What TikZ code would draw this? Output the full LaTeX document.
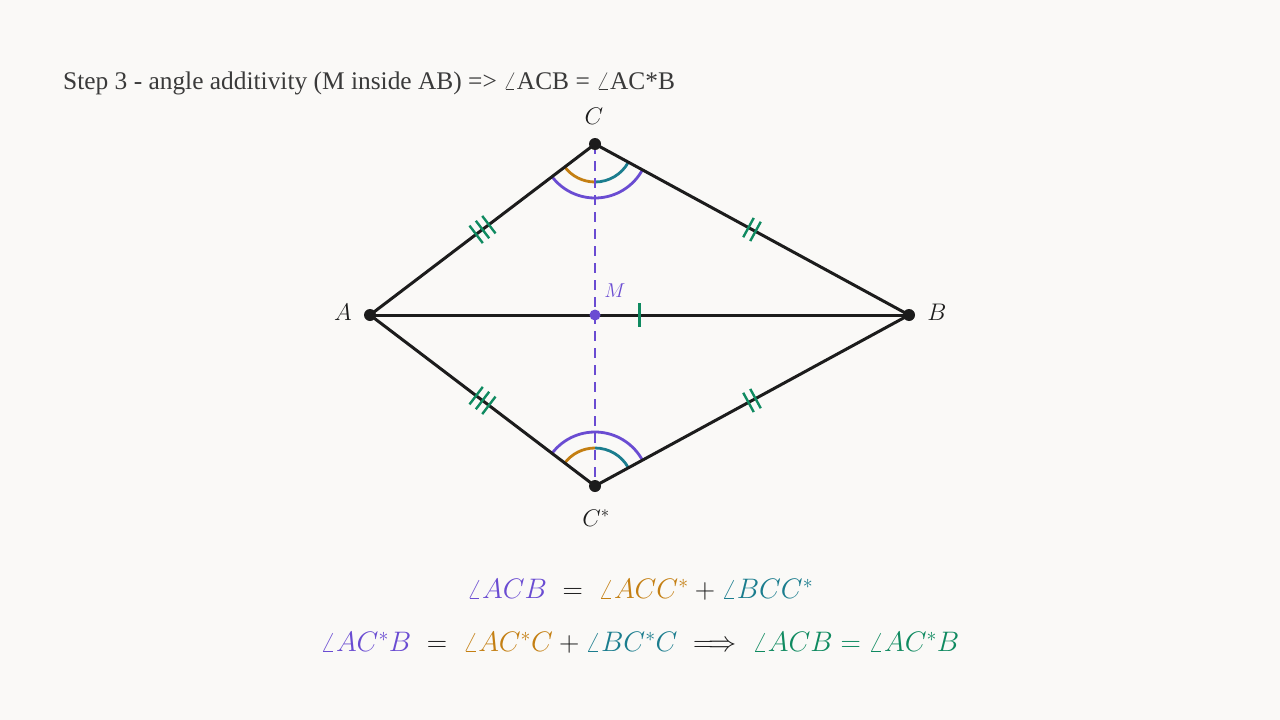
\RequirePackage{fix-cm}
\documentclass[tikz,border=0pt]{standalone}
\usepackage{fontspec}
\newfontfamily\titlefont{Liberation Serif}
\usetikzlibrary{calc,decorations.markings}
\definecolor{bgc}{HTML}{FAF9F7}
\definecolor{ink}{HTML}{1C1C1C}
\definecolor{vio}{HTML}{6A4CD2}
\definecolor{orng}{HTML}{C47F12}
\definecolor{teal2}{HTML}{1B7D8E}
\definecolor{grn}{HTML}{0F8A60}
\definecolor{ttl}{HTML}{3A3A3A}
\tikzset{
  seg/.style={draw=ink, line width=3pt},
  dot/.style={circle, fill=ink, inner sep=0pt, minimum size=12pt},
  lbl/.style={font=\fontsize{24}{28}\selectfont, text=ink},
  eq/.style={font=\fontsize{28.2}{34}\selectfont},
  tickone/.style={postaction={decorate}, decoration={markings, mark=at position 0.5 with {\draw[grn, line width=2.4pt] (0,-12)--(0,12);}}},
  ticktwo/.style={postaction={decorate}, decoration={markings, mark=at position 0.5 with {\draw[grn, line width=2.4pt] (-4,-11)--(-4,11) (4,-11)--(4,11);}}},
  tickthree/.style={postaction={decorate}, decoration={markings, mark=at position 0.5 with {\draw[grn, line width=2.4pt] (-8,-11)--(-8,11) (0,-11)--(0,11) (8,-11)--(8,11);}}},
  arcline/.style={line width=2.8pt},
}
\begin{document}
\begin{tikzpicture}[x=1pt,y=-1pt]
\fill[bgc] (0,0) rectangle (1280,720);
\useasboundingbox (0,0) rectangle (1280,720);

\node[anchor=base west, inner sep=0pt, text=ttl, font=\titlefont\fontsize{25.4}{30}\selectfont] (title) at (63,89)
  {Step 3 - angle additivity (M inside AB) => $\angle$ACB = $\angle$AC*B};

\coordinate (A) at (370,315);
\coordinate (B) at (909,315);
\coordinate (C) at (595,144);
\coordinate (Cs) at (595,486);
\coordinate (M) at (595,315);

% angle arcs at C
\draw[orng, arcline] ([shift={(142.8:38)}]C) arc[start angle=142.8, end angle=90, radius=38];
\draw[teal2, arcline] ([shift={(90:38)}]C) arc[start angle=90, end angle=28.6, radius=38];
\draw[vio, arcline] ([shift={(142.8:54)}]C) arc[start angle=142.8, end angle=28.6, radius=54];
% angle arcs at C*
\draw[orng, arcline] ([shift={(-142.8:38)}]Cs) arc[start angle=-142.8, end angle=-90, radius=38];
\draw[teal2, arcline] ([shift={(-90:38)}]Cs) arc[start angle=-90, end angle=-28.6, radius=38];
\draw[vio, arcline] ([shift={(-142.8:54)}]Cs) arc[start angle=-142.8, end angle=-28.6, radius=54];

% segments
\draw[seg, tickthree] (A) -- (C);
\draw[seg, ticktwo] (C) -- (B);
\draw[seg, tickthree] (A) -- (Cs);
\draw[seg, ticktwo] (Cs) -- (B);
\draw[seg, tickone] (A) -- (B);
\draw[vio, line width=2.6pt, dash pattern=on 10pt off 7pt] (C) -- (Cs);

% points
\node[dot] (pA) at (A) {};
\node[dot] (pB) at (B) {};
\node[dot] (pC) at (C) {};
\node[dot] (pCs) at (Cs) {};
\node[dot, fill=vio, minimum size=11pt] (pM) at (M) {};

% labels
\node[lbl] (lA) at (343,312) {$A$};
\node[lbl] (lB) at (937,312) {$B$};
\node[lbl] (lC) at (594,116) {$C$};
\node[lbl] (lCs) at (596,518) {$C^*$};
\node[lbl, text=vio, font=\fontsize{20}{24}\selectfont] (lM) at (615,291) {$M$};

% equations
\node[eq] (eq1) at (640,590) {$\color{vio}\angle ACB\;\mathrel{\color{ink}=}\;\color{orng}\angle ACC^*\mathbin{\color{ink}+}\color{teal2}\angle BCC^*$};
\node[eq] (eq2) at (640,643) {$\color{vio}\angle AC^*B\;\mathrel{\color{ink}=}\;\color{orng}\angle AC^*C\mathbin{\color{ink}+}\color{teal2}\angle BC^*C\;\mathrel{\color{ink}\Longrightarrow}\;\color{grn}\angle ACB=\angle AC^*B$};
\end{tikzpicture}
\end{document}
